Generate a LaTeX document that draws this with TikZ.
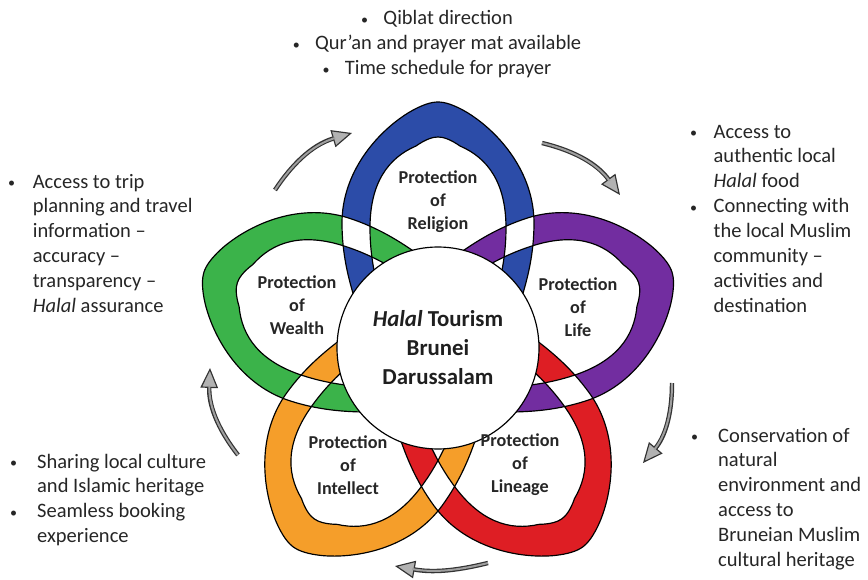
\documentclass[tikz,border=0pt]{standalone}
\usepackage{fontspec}
\setmainfont{Carlito}
\usepackage{xcolor}
\usepackage{tikz}
\usetikzlibrary{arrows.meta}
\definecolor{relblue}{HTML}{2C4CA8}
\definecolor{lifepurple}{HTML}{722DA0}
\definecolor{linred}{HTML}{DE1E24}
\definecolor{intorange}{HTML}{F59E2A}
\definecolor{wealthgreen}{HTML}{3BB34A}
\tikzset{>=latex}
\tikzstyle{band} = [even odd rule]
\tikzstyle{rim} = [draw=black, line width=1pt]
\tikzstyle{lbl} = [font=\bfseries\fontsize{15.5}{19.6}\selectfont, align=center, text=black!85, inner sep=0pt]
\tikzstyle{txt} = [font=\fontsize{17.5}{21.3}\selectfont, text=black!85, inner sep=0pt]
\tikzstyle{cyc} = [draw=black!80, line width=3.8pt, -{Triangle[length=17pt, width=15pt, fill=gray!60, line width=1pt]}, postaction={draw=gray!75, line width=1.7pt, -, shorten >=15pt}]
\newcommand{\bul}[1]{\makebox[#1][l]{\raisebox{0.6pt}{\fontsize{12}{12}\selectfont\textbullet}}}
\newcommand{\ringpath}{(-82,45) .. controls (-90,70) and (-96,95) .. (-96,125) .. controls (-96,175) and (-62,215) .. (-30,235) .. controls (-15,244) and (-6,246) .. (0,246) .. controls (6,246) and (15,244) .. (30,235) .. controls (62,215) and (96,175) .. (96,125) .. controls (96,95) and (90,70) .. (82,45) -- cycle (-58,50) .. controls (-64,75) and (-68,95) .. (-68,120) .. controls (-68,165) and (-50,190) .. (-22,202) .. controls (-12,209) and (-5,211) .. (0,211) .. controls (5,211) and (12,209) .. (22,202) .. controls (50,190) and (68,165) .. (68,120) .. controls (68,95) and (64,75) .. (58,50) -- cycle}

\begin{document}
\begin{tikzpicture}[x=0.03cm, y=0.03cm]
\useasboundingbox (-438,-231) rectangle (430,348);
\fill [band, fill=relblue] \ringpath;
\fill [band, fill=lifepurple, rotate=-72] \ringpath;
\fill [band, fill=linred, rotate=-144] \ringpath;
\fill [band, fill=intorange, rotate=144] \ringpath;
\fill [band, fill=wealthgreen, rotate=72] \ringpath;
\begin{scope}[band]
\clip \ringpath;
\fill [band, white, rotate=-72] \ringpath;
\fill [band, white, rotate=72] \ringpath;
\end{scope}
\begin{scope}[band]
\clip [rotate=-144] \ringpath;
\fill [band, white, rotate=-72] \ringpath;
\fill [band, white, rotate=144] \ringpath;
\end{scope}
\begin{scope}[band]
\clip [rotate=72] \ringpath;
\fill [band, white, rotate=144] \ringpath;
\end{scope}
\draw [rim] \ringpath;
\draw [rim, rotate=-72] \ringpath;
\draw [rim, rotate=-144] \ringpath;
\draw [rim, rotate=144] \ringpath;
\draw [rim, rotate=72] \ringpath;
\node [circle, draw=black, line width=1pt, fill=white, minimum size=6.06cm, align=center, inner sep=0pt, text=black!88, font=\bfseries\fontsize{19.5}{24.7}\selectfont] (hub) at (0,0) {\textit{Halal} Tourism\\Brunei\\Darussalam};
\node [lbl] (religion) at (0,146) {Protection\\of\\Religion};
\node [lbl] (life) at (140,41) {Protection\\of\\Life};
\node [lbl] (lineage) at (82,-117) {Protection\\of\\Lineage};
\node [lbl] (intellect) at (-90,-117) {Protection\\of\\Intellect};
\node [lbl] (wealth) at (-141,43) {Protection\\of\\Wealth};
\coordinate (a1s) at (-163,158);
\coordinate (a1e) at (-86,215);
\coordinate (a2s) at (104,205);
\coordinate (a2e) at (182,153);
\coordinate (a3s) at (234,-35);
\coordinate (a3e) at (205,-115);
\coordinate (a4s) at (50,-215);
\coordinate (a4e) at (-43,-218);
\coordinate (a5s) at (-200,-107);
\coordinate (a5e) at (-228,-20);
\draw [cyc] (a1s) to[bend left=20] (a1e);
\draw [cyc] (a2s) to[bend left=20] (a2e);
\draw [cyc] (a3s) to[bend left=20] (a3e);
\draw [cyc] (a4s) to[bend left=12] (a4e);
\draw [cyc] (a5s) to[bend left=20] (a5e);
\node [txt, anchor=base] (prayertxt) at (-1,323) {\begin{tabular}[t]{@{}c@{}}
\bul{19pt}Qiblat direction\\
\bul{19pt}Qur'an and prayer mat available\\
\bul{19pt}Time schedule for prayer
\end{tabular}};
\node [txt, anchor=base west] (foodtxt) at (252,210) {\begin{tabular}[t]{@{}l@{}l@{}}
\bul{20pt} & Access to\\
 & authentic local\\
 & \textit{Halal} food\\
\bul{20pt} & Connecting with\\
 & the local Muslim\\
 & community --\\
 & activities and\\
 & destination
\end{tabular}};
\node [txt, anchor=base west] (naturetxt) at (253,-94) {\begin{tabular}[t]{@{}l@{}l@{}}
\bul{23pt} & Conservation of\\
 & natural\\
 & environment and\\
 & access to\\
 & Bruneian Muslim\\
 & cultural heritage
\end{tabular}};
\node [txt, anchor=base west] (culturetxt) at (-428,-120) {\begin{tabular}[t]{@{}l@{}l@{}}
\bul{23pt} & Sharing local culture\\
 & and Islamic heritage\\
\bul{23pt} & Seamless booking\\
 & experience
\end{tabular}};
\node [txt, anchor=base west] (triptxt) at (-430,160) {\begin{tabular}[t]{@{}l@{}l@{}}
\bul{21pt} & Access to trip\\
 & planning and travel\\
 & information --\\
 & accuracy --\\
 & transparency --\\
 & \textit{Halal} assurance
\end{tabular}};
\end{tikzpicture}
\end{document}
